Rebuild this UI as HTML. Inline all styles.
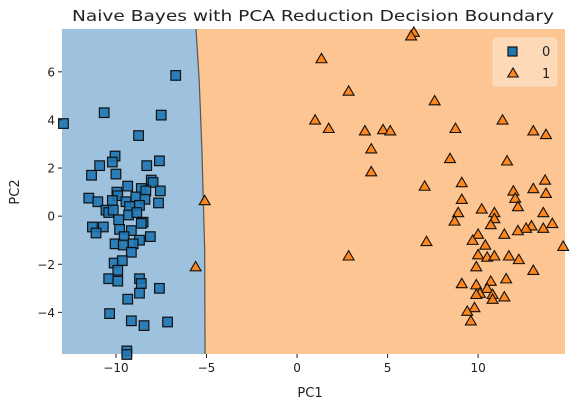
<!DOCTYPE html>
<html><head><meta charset="utf-8"><style>
body{margin:0;background:#fff;}
svg{display:block;font-family:"DejaVu Sans","Liberation Sans",sans-serif;}
</style></head><body>
<svg id="chart" width="570" height="407" viewBox="0 0 570 407" xmlns="http://www.w3.org/2000/svg">
<text x="313" y="21" text-anchor="middle" font-size="15.5" fill="#222" textLength="482" lengthAdjust="spacingAndGlyphs">Naive Bayes with PCA Reduction Decision Boundary</text>
<g id="plot"></g>
<text x="310" y="397" text-anchor="middle" font-size="13" fill="#222">PC1</text>
<text x="19" y="192" text-anchor="middle" font-size="13" fill="#222" transform="rotate(-90 19 192)">PC2</text>
</svg>
<script>
const xTicks=[-10,-5,0,5,10];
const yTicks=[-4,-2,0,2,4,6];
const boundaryX=[-5.58,-5.4,-5.25,-5.1,-5.08];
const boundaryY=[7.78,5.6,2.7,-1.4,-5.73];
const class0X=[-12.9,-6.7,-10.65,-7.5,-8.75,-10.05,-10.2,-10.9,-11.35,-10.0,-8.3,-7.6,-8.05,-7.95,-7.55,-7.65,-11.5,-11.0,-9.35,-9.95,-9.9,-8.6,-8.35,-8.9,-8.4,-10.2,-9.45,-8.7,-9.25,-10.55,-10.4,-10.15,-9.3,-8.85,-9.85,-8.5,-8.6,-11.3,-10.7,-11.1,-9.8,-9.15,-8.1,-9.55,-8.7,-10.05,-9.6,-9.05,-9.15,-10.1,-9.65,-9.9,-10.4,-9.9,-8.7,-8.6,-7.6,-8.7,-9.35,-10.35,-9.15,-8.45,-7.15,-9.4,-9.4];
const class0Y=[3.85,5.85,4.3,4.2,3.35,2.5,2.25,2.1,1.7,1.75,2.1,2.3,1.5,1.4,1.05,0.55,0.75,0.6,1.25,1.0,0.85,1.15,1.05,0.8,0.7,0.65,0.6,0.45,0.4,0.25,0.15,0.25,0.05,0.15,-0.15,-0.25,-0.3,-0.45,-0.45,-0.7,-0.55,-0.6,-0.85,-0.85,-1.0,-1.15,-1.2,-1.15,-1.5,-1.95,-1.85,-2.25,-2.6,-2.7,-2.6,-2.8,-3.0,-3.2,-3.45,-4.05,-4.35,-4.55,-4.4,-5.6,-5.75];
const class1X=[-5.1,-5.6,6.45,6.3,1.35,2.85,7.6,1.0,1.75,3.75,4.75,5.15,4.1,4.1,8.75,11.35,13.05,13.75,8.45,11.6,7.05,9.1,13.7,11.95,13.05,13.75,12.05,9.1,12.2,10.2,10.9,8.9,10.9,8.7,13.6,10.7,14.1,12.95,12.65,13.6,12.2,11.45,10.0,9.7,7.15,2.85,14.7,10.4,10.0,10.5,10.9,11.7,12.25,9.9,13.05,11.55,9.1,9.9,10.7,10.5,10.1,9.9,10.8,11.45,10.8,9.8,9.4,9.6];
const class1Y=[0.65,-2.1,7.65,7.5,6.55,5.2,4.8,4.0,3.65,3.55,3.6,3.55,2.8,1.85,3.65,4.0,3.55,3.4,2.4,2.3,1.25,1.4,1.5,1.05,1.15,0.95,0.75,0.7,0.4,0.3,0.15,0.15,-0.1,-0.2,0.15,-0.35,-0.3,-0.4,-0.5,-0.5,-0.6,-0.75,-0.75,-1.0,-1.05,-1.65,-1.25,-1.2,-1.6,-1.7,-1.65,-1.65,-1.8,-2.1,-2.25,-2.6,-2.8,-2.85,-2.7,-3.0,-3.2,-3.25,-3.25,-3.35,-3.45,-3.8,-3.95,-4.35];

const L=62,R=565,T=29,B=354;
const xMin=-12.98,xMax=14.8,yMin=-5.73,yMax=7.78;
const sx=v=>L+(v-xMin)/(xMax-xMin)*(R-L);
const sy=v=>B-(v-yMin)/(yMax-yMin)*(B-T);
const NS="http://www.w3.org/2000/svg";
const g=document.getElementById('plot');
function mk(tag,attrs,parent){const e=document.createElementNS(NS,tag);for(const k in attrs)e.setAttribute(k,attrs[k]);(parent||g).appendChild(e);return e;}

const bg=mk('rect',{x:L,y:T,width:R-L,height:B-T,fill:'#fdc591'});


let pts=[[L,T]];
for(let i=0;i<boundaryX.length;i++)pts.push([sx(boundaryX[i]),sy(boundaryY[i])]);
pts.push([L,B]);
const reg0=mk('polygon',{points:pts.map(p=>p.join(',')).join(' '),fill:'#9ec2de'});


const bl=mk('polyline',{points:boundaryX.map((v,i)=>sx(v)+','+sy(boundaryY[i])).join(' '),fill:'none',stroke:'#555',"stroke-width":1.2});



class0X.forEach((v,i)=>{const x=sx(v),y=sy(class0Y[i]);
 const r=mk('rect',{x:x-4.8,y:y-4.8,width:9.6,height:9.6,fill:'#1f77b4',stroke:'#111',"stroke-width":1.2,"fill-opacity":0.9});
 
 });
function tri(x,y,s,parent){return mk('polygon',{points:`${x},${y-s} ${x-s*1.05},${y+s*0.8} ${x+s*1.05},${y+s*0.8}`,fill:'#ff7f0e',stroke:'#111',"stroke-width":1.1,"fill-opacity":0.9},parent);}
class1X.forEach((v,i)=>{const t=tri(sx(v),sy(class1Y[i]),5.2);
 
 });

xTicks.forEach(v=>{const x=sx(v);
 const l=mk('line',{x1:x,x2:x,y1:B,y2:B+4,stroke:'#222'});
 
 
 const t=mk('text',{x:x,y:B+18,"text-anchor":"middle","font-size":12,fill:'#222'});t.textContent=(v<0?'\u2212'+(-v):v);
 
 });
yTicks.forEach(v=>{const y=sy(v);
 const l=mk('line',{x1:L-4,x2:L,y1:y,y2:y,stroke:'#222'});
 
 
 const t=mk('text',{x:L-7,y:y+4.5,"text-anchor":"end","font-size":12,fill:'#222'});t.textContent=(v<0?'\u2212'+(-v):v);
 
 });

const lg=mk('g',{});


mk('rect',{x:493,y:38,width:64,height:48,rx:3,fill:'#fff',"fill-opacity":0.35,stroke:'#eee',"stroke-opacity":0.5},lg);
mk('rect',{x:508,y:47,width:9,height:9,fill:'#1f77b4',stroke:'#111',"stroke-width":1.2},lg);
tri(513,73,5,lg);
const t0=mk('text',{x:542,y:56,"font-size":13,fill:'#222'},lg);t0.textContent='0';
const t1=mk('text',{x:542,y:78,"font-size":13,fill:'#222'},lg);t1.textContent='1';
</script>
</body></html>
